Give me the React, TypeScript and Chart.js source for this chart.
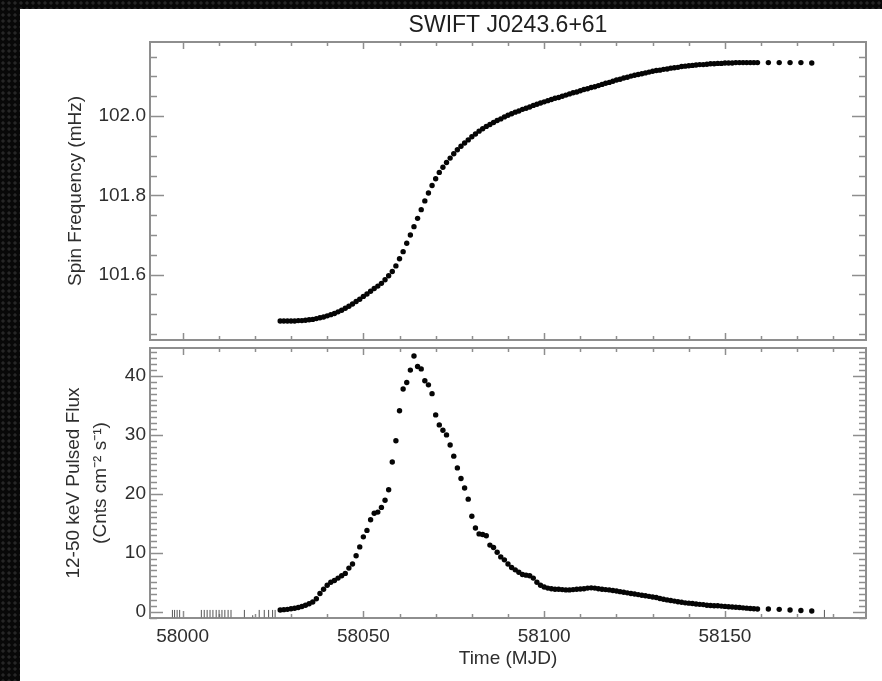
import React, { useEffect, useRef } from 'react';
import { Chart, registerables } from 'chart.js';

Chart.register(...registerables);

// ---------------- data ----------------
const TITLE = 'SWIFT J0243.6+61';
const X_MIN = 57991;
const X_MAX = 58189;
const X_TICKS = [58000, 58050, 58100, 58150];

const MJD_DENSE = [
  58027, 58028, 58029, 58030, 58031, 58032, 58033, 58034, 58035, 58036,
  58037, 58038, 58039, 58040, 58041, 58042, 58043, 58044, 58045, 58046,
  58047, 58048, 58049, 58050, 58051, 58052, 58053, 58054, 58055, 58056,
  58057, 58058, 58059, 58060, 58061, 58062, 58063, 58064, 58065, 58066,
  58067, 58068, 58069, 58070, 58071, 58072, 58073, 58074, 58075, 58076,
  58077, 58078, 58079, 58080, 58081, 58082, 58083, 58084, 58085, 58086,
  58087, 58088, 58089, 58090, 58091, 58092, 58093, 58094, 58095, 58096,
  58097, 58098, 58099, 58100, 58101, 58102, 58103, 58104, 58105, 58106,
  58107, 58108, 58109, 58110, 58111, 58112, 58113, 58114, 58115, 58116,
  58117, 58118, 58119, 58120, 58121, 58122, 58123, 58124, 58125, 58126,
  58127, 58128, 58129, 58130, 58131, 58132, 58133, 58134, 58135, 58136,
  58137, 58138, 58139, 58140, 58141, 58142, 58143, 58144, 58145, 58146,
  58147, 58148, 58149, 58150, 58151, 58152, 58153, 58154, 58155, 58156,
  58157, 58158, 58159,
];

const SPIN_DENSE = [
  101.483, 101.483, 101.483, 101.483, 101.483, 101.484, 101.484, 101.485, 101.486, 101.487,
  101.489, 101.491, 101.493, 101.496, 101.499, 101.502, 101.506, 101.510, 101.515, 101.520,
  101.526, 101.532, 101.538, 101.545, 101.551, 101.558, 101.565, 101.571, 101.578, 101.587,
  101.597, 101.608, 101.622, 101.640, 101.658, 101.679, 101.700, 101.721, 101.742, 101.764,
  101.786, 101.806, 101.825, 101.842, 101.858, 101.871, 101.883, 101.894, 101.905, 101.915,
  101.924, 101.932, 101.940, 101.948, 101.955, 101.962, 101.968, 101.974, 101.979, 101.984,
  101.989, 101.993, 101.998, 102.002, 102.006, 102.010, 102.013, 102.017, 102.020, 102.023,
  102.027, 102.030, 102.033, 102.036, 102.039, 102.042, 102.045, 102.047, 102.050, 102.053,
  102.056, 102.059, 102.061, 102.064, 102.067, 102.069, 102.072, 102.074, 102.077, 102.080,
  102.083, 102.085, 102.088, 102.091, 102.093, 102.096, 102.098, 102.101, 102.103, 102.105,
  102.107, 102.109, 102.111, 102.113, 102.115, 102.116, 102.118, 102.119, 102.121, 102.122,
  102.123, 102.125, 102.126, 102.127, 102.128, 102.129, 102.130, 102.130, 102.131, 102.132,
  102.132, 102.133, 102.133, 102.134, 102.134, 102.134, 102.135, 102.135, 102.135, 102.135,
  102.135, 102.135, 102.135,
];

const FLUX_DENSE = [
  0.3, 0.35, 0.4, 0.5, 0.58, 0.72, 0.88, 1.1, 1.35, 1.65,
  2.2, 3.1, 3.8, 4.5, 5.0, 5.3, 5.7, 6.1, 6.5, 7.4,
  8.1, 9.5, 11.0, 12.7, 13.8, 15.6, 16.7, 16.9, 17.7, 18.9,
  20.7, 25.4, 29.0, 34.1, 37.8, 38.9, 41.0, 43.4, 41.6, 41.2,
  39.2, 38.5, 37.0, 33.4, 31.7, 30.8, 30.0, 28.3, 26.4, 24.4,
  22.6, 21.0, 19.1, 16.2, 14.2, 13.2, 13.1, 12.9, 11.3, 10.9,
  10.1, 9.3, 8.8, 8.1, 7.5, 7.1, 6.7, 6.3, 6.2, 6.1,
  5.7, 5.0, 4.5, 4.2, 4.0, 3.9, 3.8, 3.8, 3.75, 3.7,
  3.7, 3.75, 3.8, 3.85, 3.9, 4.0, 4.05, 4.0, 3.9, 3.8,
  3.75, 3.7, 3.6, 3.5, 3.4, 3.3, 3.2, 3.1, 3.0, 2.9,
  2.8, 2.7, 2.6, 2.5, 2.4, 2.25, 2.1, 2.0, 1.9, 1.8,
  1.7, 1.6, 1.5, 1.45, 1.4, 1.3, 1.25, 1.2, 1.1, 1.05,
  1.0, 1.0, 0.95, 0.9, 0.85, 0.8, 0.75, 0.7, 0.65, 0.6,
  0.55, 0.5, 0.45,
];

const MJD_SPARSE = [58162, 58165, 58168, 58171, 58174];
const SPIN_SPARSE = [102.135, 102.135, 102.135, 102.135, 102.134];
const FLUX_SPARSE = [0.45, 0.4, 0.3, 0.2, 0.12];

// non-detection bars (flux low / high ends)
const UL_MJD = [
  57997.2, 57997.8, 57998.5, 57999.2,
  58005.2, 58006.0, 58006.8, 58007.6, 58008.4, 58009.3, 58010.1, 58010.9, 58011.7, 58012.6, 58013.4,
  58017.1, 58019.4, 58021.2, 58022.6, 58023.8, 58024.9, 58025.6,
  58177.5,
];
const UL_LOW = [
  -0.95, -0.95, -0.95, -0.95,
  -0.95, -0.95, -0.95, -0.95, -0.95, -0.95, -0.95, -0.95, -0.95, -0.95, -0.95,
  -0.95, -0.95, -0.95, -0.95, -0.95, -0.95, -0.95,
  -0.95,
];
const UL_HIGH = [
  0.3, 0.3, 0.3, 0.3,
  0.3, 0.3, 0.3, 0.3, 0.3, 0.3, 0.3, 0.3, 0.3, 0.3, 0.3,
  0.3, -0.6, 0.3, 0.3, 0.3, 0.3, 0.3,
  0.3,
];

const SPIN_MIN = 101.435;
const SPIN_MAX = 102.187;
const SPIN_TICKS = [101.6, 101.8, 102.0];
const FLUX_MIN = -1.07;
const FLUX_MAX = 44.75;
const FLUX_TICKS = [0, 10, 20, 30, 40];

// ---------------- styling ----------------
const FONT = "'Liberation Sans', Arial, Helvetica, sans-serif";
const TEXT = '#2e2e2e';
const AXIS = '#8e8e8e';

const framePlugin = {
  id: 'idlFrame',
  beforeDatasetsDraw(chart: any, _args: any, opts: any) {
    const { ctx, chartArea: a } = chart;
    const xs = chart.scales.x;
    const ys = chart.scales.y;
    ctx.save();
    ctx.strokeStyle = opts.color;
    ctx.lineWidth = opts.tickWidth;
    ctx.beginPath();
    const xr = Math.round(opts.xMajor / opts.xMinor);
    const k0 = Math.ceil(xs.min / opts.xMinor - 1e-9);
    const k1 = Math.floor(xs.max / opts.xMinor + 1e-9);
    for (let k = k0; k <= k1; k++) {
      const px = Math.round(xs.getPixelForValue(k * opts.xMinor)) + 0.5;
      const major = ((k % xr) + xr) % xr === 0;
      const len = major ? opts.xMajorLen : opts.xMinorLen;
      ctx.moveTo(px, a.bottom);
      ctx.lineTo(px, a.bottom - len);
      ctx.moveTo(px, a.top);
      ctx.lineTo(px, a.top + len);
    }
    const yr = Math.round(opts.yMajor / opts.yMinor);
    const j0 = Math.ceil(ys.min / opts.yMinor - 1e-9);
    const j1 = Math.floor(ys.max / opts.yMinor + 1e-9);
    for (let j = j0; j <= j1; j++) {
      const py = Math.round(ys.getPixelForValue(j * opts.yMinor)) + 0.5;
      const major = ((j % yr) + yr) % yr === 0;
      const len = major ? opts.yMajorLen : opts.yMinorLen;
      ctx.moveTo(a.left, py);
      ctx.lineTo(a.left + len, py);
      ctx.moveTo(a.right, py);
      ctx.lineTo(a.right - len, py);
    }
    ctx.stroke();
    ctx.lineWidth = opts.frameWidth;
    ctx.strokeRect(a.left, a.top, a.right - a.left, a.bottom - a.top);
    ctx.restore();
  },
};

const dot = {
  pointRadius: 2.7,
  pointHoverRadius: 2.7,
  pointBackgroundColor: '#050505',
  pointBorderWidth: 0,
  showLine: false,
};

const fitY = (s: any) => {
  s.width = 150;
  s.paddingTop = 0;
  s.paddingBottom = 0;
};
const fitX = (s: any) => {
  s.height = 63;
  s.paddingLeft = 0;
  s.paddingRight = 0;
};

function TopPanel() {
  const ref = useRef<HTMLCanvasElement>(null);
  useEffect(() => {
    if (!ref.current) return;
    const chart = new Chart(ref.current, {
      type: 'scatter',
      data: {
        datasets: [
          { data: MJD_DENSE.map((x, i) => ({ x, y: SPIN_DENSE[i] })), ...dot },
          { data: MJD_SPARSE.map((x, i) => ({ x, y: SPIN_SPARSE[i] })), ...dot },
        ],
      },
      plugins: [framePlugin],
      options: {
        responsive: false,
        animation: false,
        events: [],
        layout: { padding: { left: 0, right: 16, top: 0, bottom: 5 } },
        plugins: {
          legend: { display: false },
          tooltip: { enabled: false },
          title: {
            display: true,
            fullSize: false,
            text: TITLE,
            color: '#1e1e1e',
            font: { family: FONT, size: 23, weight: 'normal', lineHeight: 1.2 },
            padding: { top: 11.7, bottom: 2.7 },
          },
          idlFrame: {
            color: AXIS, tickWidth: 1.5, frameWidth: 2,
            xMinor: 10, xMajor: 50, xMinorLen: 4, xMajorLen: 7,
            yMinor: 0.05, yMajor: 0.2, yMinorLen: 7, yMajorLen: 14,
          },
        } as any,
        scales: {
          x: { type: 'linear', display: false, min: X_MIN, max: X_MAX },
          y: {
            type: 'linear',
            min: SPIN_MIN,
            max: SPIN_MAX,
            afterFit: fitY,
            afterBuildTicks: (s: any) => { s.ticks = SPIN_TICKS.map((v) => ({ value: v })); },
            grid: { display: false, drawTicks: false },
            border: { display: false },
            ticks: {
              autoSkip: false,
              padding: 4,
              color: TEXT,
              font: { family: FONT, size: 19 },
              callback: (v: any) => Number(v).toFixed(1),
            },
            title: {
              display: true,
              text: 'Spin Frequency (mHz)',
              color: TEXT,
              font: { family: FONT, size: 19, lineHeight: 1.2 },
              padding: { top: 64.6, bottom: 0 },
            },
          },
        },
      } as any,
    });
    return () => chart.destroy();
  }, []);
  return (
    <canvas ref={ref} width={882} height={345}
      style={{ position: 'absolute', left: 0, top: 0, width: 882, height: 345 }} />
  );
}

function BottomPanel() {
  const ref = useRef<HTMLCanvasElement>(null);
  useEffect(() => {
    if (!ref.current) return;
    const chart = new Chart(ref.current, {
      type: 'scatter',
      data: {
        datasets: [
          {
            data: UL_MJD.map((x, i) => ({ x, y: (UL_LOW[i] + UL_HIGH[i]) / 2 })),
            showLine: false,
            pointStyle: 'line',
            rotation: 90,
            borderColor: '#555',
            pointBorderColor: '#555',
            pointBorderWidth: 1,
            pointRadius: (c: any) => {
              const y = c.chart.scales.y;
              const i = c.dataIndex;
              return Math.abs(y.getPixelForValue(UL_LOW[i]) - y.getPixelForValue(UL_HIGH[i])) / 2;
            },
          },
          { data: MJD_DENSE.map((x, i) => ({ x, y: FLUX_DENSE[i] })), ...dot },
          { data: MJD_SPARSE.map((x, i) => ({ x, y: FLUX_SPARSE[i] })), ...dot },
        ],
      },
      plugins: [framePlugin],
      options: {
        responsive: false,
        animation: false,
        events: [],
        layout: { padding: { left: 0, right: 16, top: 4, bottom: 0 } },
        plugins: {
          legend: { display: false },
          tooltip: { enabled: false },
          idlFrame: {
            color: AXIS, tickWidth: 1.5, frameWidth: 2,
            xMinor: 10, xMajor: 50, xMinorLen: 4, xMajorLen: 7,
            yMinor: 1, yMajor: 10, yMinorLen: 7, yMajorLen: 13,
          },
        } as any,
        scales: {
          x: {
            type: 'linear',
            min: X_MIN,
            max: X_MAX,
            afterFit: fitX,
            afterBuildTicks: (s: any) => { s.ticks = X_TICKS.map((v) => ({ value: v })); },
            grid: { display: false, drawTicks: false },
            border: { display: false },
            ticks: {
              autoSkip: false,
              maxRotation: 0,
              padding: 7,
              color: TEXT,
              font: { family: FONT, size: 19 },
              callback: (v: any) => String(v),
            },
            title: {
              display: true,
              text: 'Time (MJD)',
              color: TEXT,
              font: { family: FONT, size: 19, lineHeight: 1.2 },
              padding: { top: 0, bottom: 10.6 },
            },
          },
          y: {
            type: 'linear',
            min: FLUX_MIN,
            max: FLUX_MAX,
            afterFit: fitY,
            afterBuildTicks: (s: any) => { s.ticks = FLUX_TICKS.map((v) => ({ value: v })); },
            grid: { display: false, drawTicks: false },
            border: { display: false },
            ticks: {
              autoSkip: false,
              padding: 4,
              color: TEXT,
              font: { family: FONT, size: 19 },
              callback: (v: any) => String(v),
            },
            title: {
              display: true,
              text: ['12-50 keV Pulsed Flux', '(Cnts cm⁻² s⁻¹)'],
              color: TEXT,
              font: { family: FONT, size: 19, lineHeight: 1.45 },
              padding: { top: 59.6, bottom: 0 },
            },
          },
        },
      } as any,
    });
    return () => chart.destroy();
  }, []);
  return (
    <canvas ref={ref} width={882} height={337}
      style={{ position: 'absolute', left: 0, top: 344, width: 882, height: 337 }} />
  );
}

export default function App() {
  return (
    <div
      style={{
        position: 'absolute',
        left: 0,
        top: 0,
        width: 882,
        height: 681,
        overflow: 'hidden',
        backgroundColor: '#080808',
        backgroundImage: 'radial-gradient(circle, #262626 1.3px, rgba(0,0,0,0) 2px)',
        backgroundSize: '6px 6px',
      }}
    >
      <div style={{ position: 'absolute', left: 20, top: 9, right: 0, bottom: 0, background: '#ffffff' }} />
      <TopPanel />
      <BottomPanel />
    </div>
  );
}
